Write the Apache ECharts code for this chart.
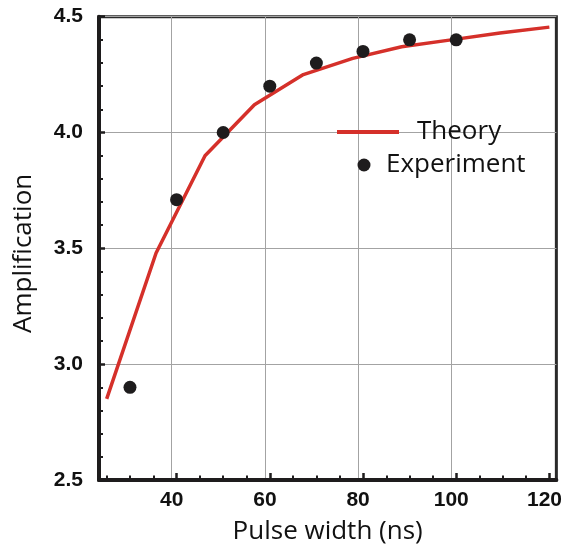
<!DOCTYPE html>
<html>
<head>
<meta charset="utf-8">
<script src="https://cdn.jsdelivr.net/npm/echarts@6/dist/echarts.min.js"></script>
<style>
html,body{margin:0;padding:0;background:#fff;}
#c{width:565px;height:550px;}
</style>
</head>
<body>
<div id="c"></div>
<script>
// Theory curve (Pulse width in ns, Amplification)
const theoryX = [25, 35.6, 46.1, 56.7, 67.2, 77.8, 88.3, 98.9, 109.4, 120];
const theoryY = [2.85, 3.48, 3.90, 4.12, 4.25, 4.32, 4.37, 4.40, 4.43, 4.455];
// Experiment points
const expX = [30, 40, 50, 60, 70, 80, 90, 100];
const expY = [2.90, 3.71, 4.00, 4.20, 4.30, 4.35, 4.40, 4.40];
// Tick values
const xMajorTicks = [40, 60, 80, 100, 120];
const xMinorTicks = [25, 30, 35, 45, 50, 55, 65, 70, 75, 85, 90, 95, 105, 110, 115];
const xLabels = [40, 60, 80, 100, 120];
const xGridValues = [40, 60, 80, 100];
const yTickLabels = [2.5, 3.0, 3.5, 4.0, 4.5];

const chart = echarts.init(document.getElementById('c'), null, {renderer: 'canvas'});

const ink = '#1e1c1d';
const red = '#d5302a';
const grid = '#a3a3a3';

const option = {
  backgroundColor: '#ffffff',
  animation: false,
  grid: {
    left: 99, right: 6.3, top: 16.7, bottom: 70,
    show: true, borderColor: '#2a2a2a', borderWidth: 3, backgroundColor: 'transparent',
    containLabel: false
  },
  legend: [
    {
      data: [{name: 'Theory', icon: 'rect'}], left: 337, top: 119, padding: 0,
      itemWidth: 62, itemHeight: 4,
      itemStyle: {color: red, borderWidth: 0},
      textStyle: {fontFamily: 'Open Sans', fontSize: 26, color: '#111', padding: [0, 0, 0, 13]}
    },
    {
      data: [{name: 'Experiment', icon: 'circle'}], left: 357.5, top: 152, padding: 0,
      itemWidth: 13, itemHeight: 13,
      textStyle: {fontFamily: 'Open Sans', fontSize: 26, color: '#111', padding: [0, 0, 0, 10.5]}
    }
  ],
  xAxis: [
    { // data axis: axis line + major ticks
      type: 'value', position: 'bottom', min: 23.35, max: 121.5,
      axisLine: {show: true, onZero: false, lineStyle: {color: ink, width: 4}},
      axisTick: {show: true, inside: true, length: 7, customValues: xMajorTicks, lineStyle: {color: ink, width: 2.5}},
      axisLabel: {show: false},
      splitLine: {show: false},
      name: 'Pulse width (ns)', nameLocation: 'middle', nameGap: 39,
      nameTextStyle: {fontFamily: 'Open Sans', fontSize: 26, color: '#111'}
    },
    { // minor ticks
      type: 'value', position: 'bottom', min: 23.35, max: 121.5,
      axisLine: {show: false, onZero: false},
      axisTick: {show: true, inside: true, length: 4.5, customValues: xMinorTicks, lineStyle: {color: ink, width: 2}},
      axisLabel: {show: false},
      splitLine: {show: false}
    },
    { // labels and grid lines
      type: 'value', position: 'bottom', min: 24.4, max: 122.55,
      axisLine: {show: false, onZero: false},
      axisTick: {show: false, customValues: xGridValues},
      axisLabel: {show: true, customValues: xLabels, margin: 10,
        fontFamily: 'Liberation Sans', fontWeight: 'bold', fontSize: 21, color: '#111'},
      splitLine: {show: true, lineStyle: {color: grid, width: 1}}
    }
  ],
  yAxis: [{
    type: 'value', min: yTickLabels[0], max: yTickLabels[yTickLabels.length - 1], interval: 0.5,
    axisLine: {show: true, onZero: false, lineStyle: {color: ink, width: 4}},
    axisTick: {show: true, inside: true, length: 6, lineStyle: {color: ink, width: 2.5}},
    minorTick: {show: true, splitNumber: 5, length: 4, lineStyle: {color: ink, width: 2}},
    axisLabel: {margin: 16, fontFamily: 'Liberation Sans', fontWeight: 'bold', fontSize: 21, color: '#111',
      formatter: v => v.toFixed(1)},
    splitLine: {show: true, lineStyle: {color: grid, width: 1}},
    name: 'Amplification', nameLocation: 'middle', nameGap: 62,
    nameTextStyle: {fontFamily: 'Open Sans', fontSize: 26, color: '#111', padding: [0, 10, 0, 0]}
  }],
  series: [
    {
      name: 'Theory', type: 'line', xAxisIndex: 0, yAxisIndex: 0,
      data: theoryX.map((x, i) => [x, theoryY[i]]),
      symbol: 'none', smooth: false,
      lineStyle: {color: red, width: 3.5},
      itemStyle: {color: red},
      z: 3
    },
    {
      name: 'Experiment', type: 'scatter', xAxisIndex: 0, yAxisIndex: 0,
      data: expX.map((x, i) => [x, expY[i]]),
      symbol: 'circle', symbolSize: 13,
      itemStyle: {color: ink, opacity: 1},
      z: 4
    }
  ]
};
chart.setOption(option);
</script>
</body>
</html>
